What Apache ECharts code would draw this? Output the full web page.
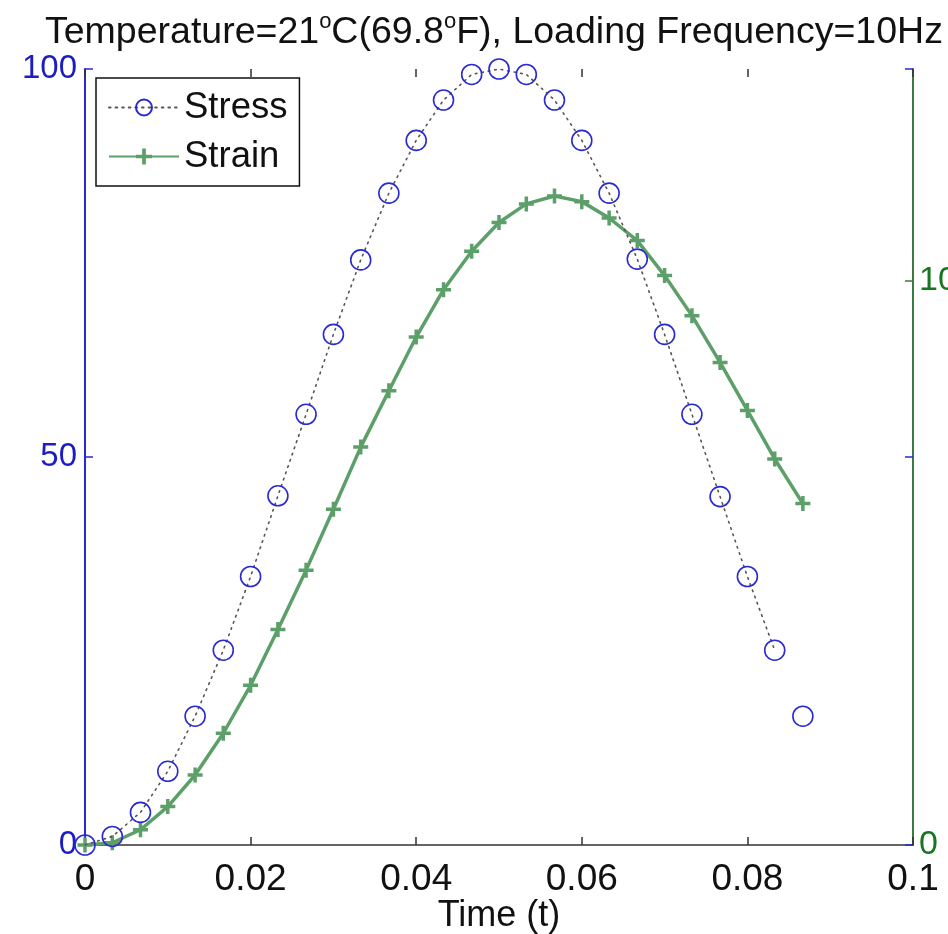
<!DOCTYPE html>
<html><head><meta charset="utf-8">
<script src="https://cdn.jsdelivr.net/npm/echarts@6/dist/echarts.min.js"></script>
<style>html,body{margin:0;padding:0;background:#fff}#c{width:948px;height:934px}</style>
</head><body><div id="c"></div>
<script>
// Time (s)
const time = [0, 0.0033, 0.0067, 0.0100, 0.0133, 0.0167, 0.0200, 0.0233, 0.0267, 0.0300,
  0.0333, 0.0367, 0.0400, 0.0433, 0.0467, 0.0500, 0.0533, 0.0567, 0.0600, 0.0633,
  0.0667, 0.0700, 0.0733, 0.0767, 0.0800, 0.0833, 0.0867];
// Stress (left axis)
const stress = [0, 1.1, 4.2, 9.5, 16.6, 25.1, 34.6, 45.0, 55.5, 65.8,
  75.4, 84.0, 90.8, 96.0, 99.3, 100.0, 99.3, 96.0, 90.8, 84.0,
  75.5, 65.8, 55.5, 44.9, 34.6, 25.1, 16.6];
// Strain (right axis)
const strain = [0, 0.04, 0.27, 0.68, 1.24, 1.98, 2.83, 3.82, 4.87, 5.95,
  7.05, 8.05, 9.00, 9.84, 10.52, 11.03, 11.36, 11.50, 11.40, 11.11,
  10.71, 10.09, 9.38, 8.55, 7.70, 6.84, 6.05];
const titleText = 'Temperature=21{s|o}C(69.8{s|o}F), Loading Frequency=10Hz';
const xName = 'Time (t)';
const seriesNames = ['Stress', 'Strain'];

const FONT = 'Liberation Sans, Arial, sans-serif';
const BLUE = '#2a2ad2';
const GREEN = '#5c9f68';
const stressPts = time.map((t, i) => [t, stress[i]]);
const strainPts = time.map((t, i) => [t, strain[i]]);
const plus = 'path://M-1.4,-6 L1.4,-6 L1.4,-1.4 L6,-1.4 L6,1.4 L1.4,1.4 L1.4,6 L-1.4,6 L-1.4,1.4 L-6,1.4 L-6,-1.4 L-1.4,-1.4 Z';

const chart = echarts.init(document.getElementById('c'), null, {renderer: 'canvas'});
chart.setOption({
  backgroundColor: '#fff',
  animation: false,
  title: {
    text: titleText, left: 40, top: 6,
    textStyle: {
      fontFamily: FONT, fontSize: 37.5, fontWeight: 'normal', color: '#111', lineHeight: 44,
      rich: { s: { fontFamily: FONT, fontSize: 22, lineHeight: 24, verticalAlign: 'top', color: '#111' } }
    }
  },
  grid: { left: 85, right: 35, top: 69, bottom: 89, outerBoundsMode: 'none', containLabel: false },
  legend: {
    data: seriesNames, orient: 'vertical', left: 96, top: 78,
    padding: [11, 12, 11, 12], itemGap: 12, itemWidth: 70, itemHeight: 20,
    borderColor: '#111', borderWidth: 1.5, backgroundColor: '#fff',
    textStyle: { fontFamily: FONT, fontSize: 36.5, color: '#111' }
  },
  xAxis: [{
    type: 'value', position: 'bottom', min: 0, max: 0.1, interval: 0.02,
    name: xName, nameLocation: 'middle', nameGap: 53, nameMoveOverlap: false,
    nameTextStyle: { fontFamily: FONT, fontSize: 36, color: '#111' },
    axisLine: { show: true, onZero: false, lineStyle: { color: '#333', width: 1.5 } },
    axisTick: { show: true, inside: true, length: 8, lineStyle: { color: '#333', width: 1.5 } },
    axisLabel: { fontFamily: FONT, fontSize: 37, color: '#111', margin: 16 },
    splitLine: { show: false }
  }, {
    type: 'value', position: 'top', min: 0, max: 0.1, interval: 0.02,
    axisLine: { show: false, onZero: false },
    axisTick: { show: true, inside: true, length: 8, lineStyle: { color: '#333', width: 1.5 } },
    axisLabel: { show: false }, splitLine: { show: false }
  }],
  yAxis: [{
    type: 'value', position: 'left', min: 0, max: 100, interval: 50,
    axisLine: { show: true, onZero: false, lineStyle: { color: BLUE, width: 2 } },
    axisTick: { show: true, inside: true, length: 8, lineStyle: { color: BLUE, width: 1.5 } },
    axisLabel: { fontFamily: FONT, fontSize: 33, color: '#1c1cc4', margin: 8 },
    splitLine: { show: false }
  }, {
    type: 'value', position: 'right', min: 0, max: 13.75, interval: 10,
    axisLine: { show: true, onZero: false, lineStyle: { color: '#3c7a44', width: 2 } },
    axisTick: { show: true, inside: true, length: 8, lineStyle: { color: '#3c7a44', width: 1.5 } },
    axisLabel: { fontFamily: FONT, fontSize: 34, color: '#17761f', margin: 6, showMaxLabel: false },
    splitLine: { show: false }
  }, {
    type: 'value', position: 'right', min: 0, max: 100, interval: 50,
    axisLine: { show: false, onZero: false },
    axisTick: { show: true, inside: true, length: 8, lineStyle: { color: BLUE, width: 1.5 } },
    axisLabel: { show: false }, splitLine: { show: false }
  }],
  series: [{
    name: 'Strain', type: 'line', xAxisIndex: 0, yAxisIndex: 1, data: strainPts,
    symbol: plus, symbolSize: 15,
    itemStyle: { color: GREEN },
    lineStyle: { color: GREEN, width: 3.5 }, z: 2
  }, {
    name: 'Stress', type: 'line', xAxisIndex: 0, yAxisIndex: 0, data: stressPts.slice(0, stressPts.length - 1),
    symbol: 'circle', symbolSize: 20,
    itemStyle: { color: 'rgba(255,255,255,0)', borderColor: BLUE, borderWidth: 1.6 },
    lineStyle: { color: '#555', width: 1.6, type: [1.6, 5], cap: 'round' }, z: 3
  }, {
    name: 'StressEnd', type: 'scatter', xAxisIndex: 0, yAxisIndex: 0, data: stressPts.slice(stressPts.length - 1),
    symbol: 'circle', symbolSize: 20,
    itemStyle: { color: 'rgba(255,255,255,0)', borderColor: BLUE, borderWidth: 1.6, opacity: 1 }, z: 3
  }]
});
</script>
</body></html>
